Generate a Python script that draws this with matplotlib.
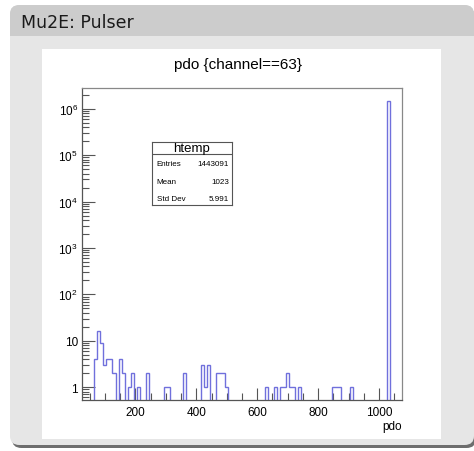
import numpy as np
import matplotlib
matplotlib.use("Agg")
import matplotlib.pyplot as plt
from matplotlib.patches import FancyBboxPatch, Rectangle
from matplotlib.ticker import FixedLocator, MultipleLocator, NullFormatter

plt.rcParams['font.family'] = ['Liberation Sans', 'DejaVu Sans']
plt.rcParams['mathtext.fontset'] = 'custom'
plt.rcParams['mathtext.rm'] = 'Liberation Sans'

# histogram contents (bin centers in pdo, counts)
bin_centers = [70, 80, 90, 100, 110, 120, 130, 150, 160, 180, 190, 210, 240,
               300, 310, 360, 420, 430, 440, 470, 480, 490, 500,
               630, 660, 680, 690, 700, 710, 720, 740,
               850, 860, 870, 910, 1030]
counts = [4, 16, 9, 3, 4, 4, 2, 4, 2, 1, 2, 1, 2,
          1, 1, 2, 3, 1, 3, 2, 2, 2, 1,
          1, 1, 1, 1, 2, 1, 1, 1,
          1, 1, 1, 1, 1443006]
x_min, x_max, bin_width = 25, 1075, 10

stats_labels = ['Entries', 'Mean', 'Std Dev']
stats_values = ['1443091', '1023', '5.991']

W, H = 474, 452
fig = plt.figure(figsize=(W / 100, H / 100), dpi=100)
fig.patch.set_facecolor('white')

def fx(px):
    return px / W

def fy(py):
    return 1 - py / H

# beamer block: shadow, body, header
fig.patches.append(FancyBboxPatch((fx(12), fy(449)), fx(464), fy(10) - fy(449),
                                  boxstyle="round,pad=0,rounding_size=0.02",
                                  transform=fig.transFigure, fc='#6e6e6e', ec='none', zorder=0))
fig.patches.append(FancyBboxPatch((fx(10), fy(446)), fx(464), fy(6) - fy(446),
                                  boxstyle="round,pad=0,rounding_size=0.02",
                                  transform=fig.transFigure, fc='#e6e6e6', ec='none', zorder=1))
fig.patches.append(FancyBboxPatch((fx(10), fy(37)), fx(464), fy(6) - fy(37),
                                  boxstyle="round,pad=0,rounding_size=0.02",
                                  transform=fig.transFigure, fc='#cccccc', ec='none', zorder=2))
fig.patches.append(Rectangle((fx(10), fy(37)), fx(464), fy(25) - fy(37),
                             transform=fig.transFigure, fc='#cccccc', ec='none', zorder=2))
fig.text(fx(21), fy(23), 'Mu2E: Pulser', fontsize=12.5, family='DejaVu Sans',
         va='center', ha='left', color='#1a1a1a', zorder=3)

# root canvas
fig.patches.append(Rectangle((fx(42), fy(440)), fx(441) - fx(42), fy(50) - fy(440),
                             transform=fig.transFigure, fc='white', ec='none', zorder=2))
fig.text(fx(238), fy(65), 'pdo {channel==63}', fontsize=11, ha='center', va='center', zorder=3)

ax = fig.add_axes([fx(82), fy(401), fx(402) - fx(82), fy(89) - fy(401)], zorder=3)
edges = np.arange(x_min, x_max + bin_width / 2, bin_width)
ax.hist(bin_centers, bins=edges, weights=counts, histtype='step',
        color='#7070dc', linewidth=1.0)
ax.set_yscale('log')
ax.set_xlim(x_min, x_max)
ax.set_ylim(0.53, 2.8e6)

for side, s in ax.spines.items():
    s.set_linewidth(0.9)
    s.set_color('#555555' if side in ('left', 'bottom') else '#888888')

ax.xaxis.set_major_locator(MultipleLocator(200))
ax.xaxis.set_minor_locator(MultipleLocator(50))
ax.yaxis.set_major_locator(FixedLocator([1, 10, 1e2, 1e3, 1e4, 1e5, 1e6]))
ax.yaxis.set_minor_locator(FixedLocator([m * 10.0 ** e for e in range(-1, 7) for m in range(2, 10)]))
ax.yaxis.set_minor_formatter(NullFormatter())
ax.set_yticklabels(['1', '10', '$10^{2}$', '$10^{3}$', '$10^{4}$', '$10^{5}$', '$10^{6}$'])
ax.tick_params(which='both', direction='in', colors='#555555', labelcolor='black',
               labelsize=8.5, top=False, right=False)
ax.tick_params(which='major', length=9, width=0.8)
ax.tick_params(which='minor', length=5, width=0.8)
ax.tick_params(axis='x', pad=4)
ax.tick_params(axis='y', pad=3)
ax.set_xlabel('pdo', fontsize=8.5, loc='right', labelpad=2)

# stats box
sb = fig.add_axes([fx(152), fy(206), fx(232) - fx(152), fy(143) - fy(206)], zorder=4)
sb.set_xlim(0, 1)
sb.set_ylim(0, 1)
sb.set_xticks([])
sb.set_yticks([])
for s in sb.spines.values():
    s.set_color('#555555')
    s.set_linewidth(0.8)
sep = 1 - (155 - 143) / (206 - 143)
sb.axhline(sep, color='#555555', lw=0.8)
sb.text(0.5, (1 + sep) / 2, 'htemp', ha='center', va='center', fontsize=9.5)
row_y = [164.3, 182.7, 200]
for lab, val, ry in zip(stats_labels, stats_values, row_y):
    yy = 1 - (ry - 143) / (206 - 143)
    sb.text(0.06, yy, lab, ha='left', va='center', fontsize=5.8)
    sb.text(0.96, yy, val, ha='right', va='center', fontsize=5.8)

fig.savefig('out.png', dpi=100)
